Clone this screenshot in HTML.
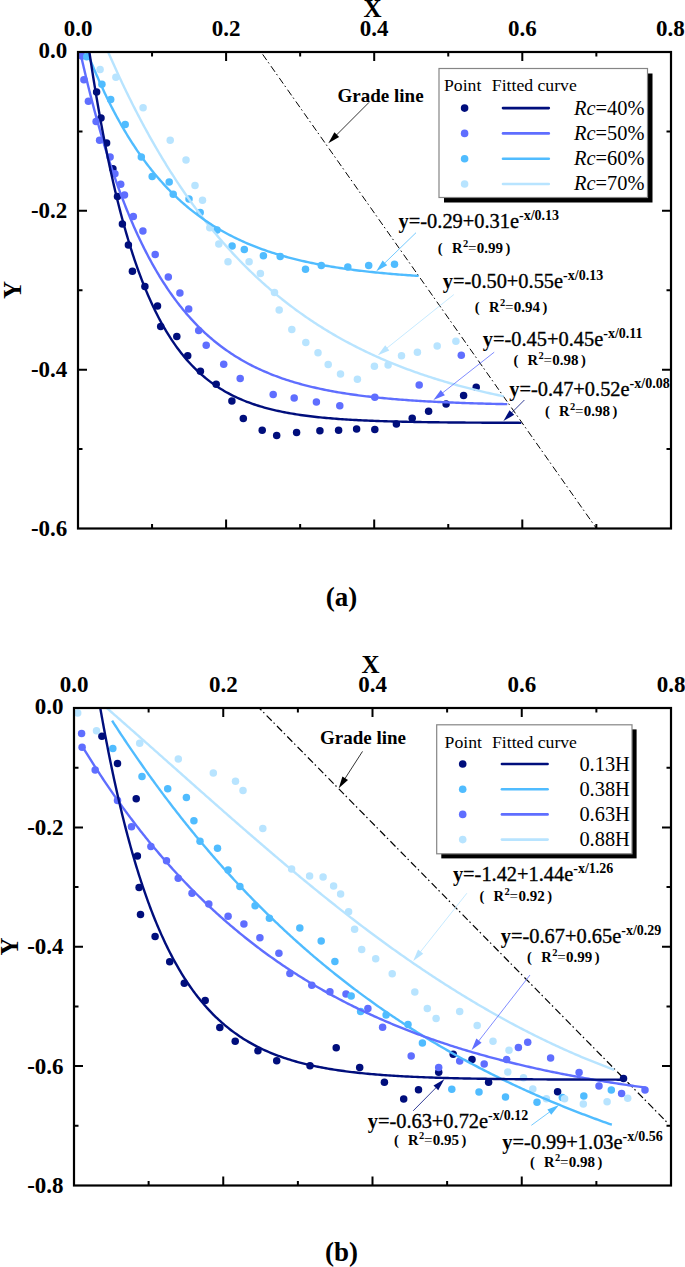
<!DOCTYPE html>
<html><head><meta charset="utf-8"><style>
html,body{margin:0;padding:0;background:#fff;}
body{width:685px;height:1267px;overflow:hidden;}
svg{display:block;}
text{font-family:"Liberation Serif",serif;fill:#000;}
.tick{font-size:23px;font-weight:bold;}
.title{font-size:25px;font-weight:bold;}
.cap{font-size:27px;font-weight:bold;}
.lh{font-size:17.7px;}
.le{font-size:20.4px;}
.gl{font-size:19px;font-weight:bold;}
.eq{font-size:20.4px;stroke:#000;stroke-width:0.35px;}
.eq .sup,.eq .b{stroke:none;}
.b{font-weight:bold;}
.sup{font-size:14px;font-weight:bold;}
.r2{font-size:14.5px;font-weight:bold;}
.r2eq{font-weight:normal;font-size:15px;}
.r2d{font-size:15px;}
.sup2{font-size:10.5px;}
</style></head><body>
<svg width="685" height="1267" viewBox="0 0 685 1267">
<g id="a">
<line x1="261" y1="52" x2="596.5" y2="528.5" stroke="#000" stroke-width="1.0" stroke-dasharray="7 2.6 1.5 3.3" stroke-dashoffset="-2.9"/>
<circle cx="96.6" cy="92" r="3.75" fill="#000e7c"/>
<circle cx="101" cy="118" r="3.75" fill="#000e7c"/>
<circle cx="106.6" cy="142.9" r="3.75" fill="#000e7c"/>
<circle cx="112.9" cy="168.8" r="3.75" fill="#000e7c"/>
<circle cx="117.5" cy="196.4" r="3.75" fill="#000e7c"/>
<circle cx="122.4" cy="223.9" r="3.75" fill="#000e7c"/>
<circle cx="128.4" cy="245" r="3.75" fill="#000e7c"/>
<circle cx="132.4" cy="271.2" r="3.75" fill="#000e7c"/>
<circle cx="144.9" cy="286.6" r="3.75" fill="#000e7c"/>
<circle cx="157.5" cy="305.9" r="3.75" fill="#000e7c"/>
<circle cx="160.7" cy="326.4" r="3.75" fill="#000e7c"/>
<circle cx="176.8" cy="336.6" r="3.75" fill="#000e7c"/>
<circle cx="187.7" cy="355.8" r="3.75" fill="#000e7c"/>
<circle cx="200.4" cy="371.3" r="3.75" fill="#000e7c"/>
<circle cx="216.2" cy="384.2" r="3.75" fill="#000e7c"/>
<circle cx="231.9" cy="401.1" r="3.75" fill="#000e7c"/>
<circle cx="243.3" cy="418.6" r="3.75" fill="#000e7c"/>
<circle cx="262.2" cy="430.3" r="3.75" fill="#000e7c"/>
<circle cx="276.7" cy="435.4" r="3.75" fill="#000e7c"/>
<circle cx="296.6" cy="432.6" r="3.75" fill="#000e7c"/>
<circle cx="319.9" cy="430.7" r="3.75" fill="#000e7c"/>
<circle cx="338.6" cy="430.3" r="3.75" fill="#000e7c"/>
<circle cx="356.6" cy="428.9" r="3.75" fill="#000e7c"/>
<circle cx="374.8" cy="429.6" r="3.75" fill="#000e7c"/>
<circle cx="396.4" cy="423.9" r="3.75" fill="#000e7c"/>
<circle cx="412.2" cy="418.3" r="3.75" fill="#000e7c"/>
<circle cx="428.6" cy="411.3" r="3.75" fill="#000e7c"/>
<circle cx="446.1" cy="404" r="3.75" fill="#000e7c"/>
<circle cx="463.6" cy="395.4" r="3.75" fill="#000e7c"/>
<circle cx="476.2" cy="387.2" r="3.75" fill="#000e7c"/>
<circle cx="81.8" cy="56.1" r="3.75" fill="#5f6eff"/>
<circle cx="83.9" cy="79.8" r="3.75" fill="#5f6eff"/>
<circle cx="88.4" cy="101.2" r="3.75" fill="#5f6eff"/>
<circle cx="96.1" cy="121.5" r="3.75" fill="#5f6eff"/>
<circle cx="99.6" cy="140.2" r="3.75" fill="#5f6eff"/>
<circle cx="110.1" cy="156.9" r="3.75" fill="#5f6eff"/>
<circle cx="114.9" cy="173.7" r="3.75" fill="#5f6eff"/>
<circle cx="120.7" cy="184.2" r="3.75" fill="#5f6eff"/>
<circle cx="124.5" cy="195" r="3.75" fill="#5f6eff"/>
<circle cx="133.3" cy="216.4" r="3.75" fill="#5f6eff"/>
<circle cx="142.9" cy="231" r="3.75" fill="#5f6eff"/>
<circle cx="155.2" cy="254.6" r="3.75" fill="#5f6eff"/>
<circle cx="168.3" cy="277" r="3.75" fill="#5f6eff"/>
<circle cx="179.9" cy="293.1" r="3.75" fill="#5f6eff"/>
<circle cx="188.7" cy="308.9" r="3.75" fill="#5f6eff"/>
<circle cx="198.7" cy="330.4" r="3.75" fill="#5f6eff"/>
<circle cx="206.2" cy="345.3" r="3.75" fill="#5f6eff"/>
<circle cx="223.7" cy="364.3" r="3.75" fill="#5f6eff"/>
<circle cx="240.2" cy="378.6" r="3.75" fill="#5f6eff"/>
<circle cx="273.2" cy="394.5" r="3.75" fill="#5f6eff"/>
<circle cx="294.2" cy="398" r="3.75" fill="#5f6eff"/>
<circle cx="316.4" cy="402" r="3.75" fill="#5f6eff"/>
<circle cx="339.8" cy="405.7" r="3.75" fill="#5f6eff"/>
<circle cx="374.8" cy="397.3" r="3.75" fill="#5f6eff"/>
<circle cx="419.2" cy="384.9" r="3.75" fill="#5f6eff"/>
<circle cx="461.3" cy="355.2" r="3.75" fill="#5f6eff"/>
<circle cx="86.7" cy="56.7" r="3.75" fill="#50bcff"/>
<circle cx="101.9" cy="84.2" r="3.75" fill="#50bcff"/>
<circle cx="110.7" cy="99.4" r="3.75" fill="#50bcff"/>
<circle cx="125.2" cy="124.5" r="3.75" fill="#50bcff"/>
<circle cx="141.3" cy="156.9" r="3.75" fill="#50bcff"/>
<circle cx="152.2" cy="176.6" r="3.75" fill="#50bcff"/>
<circle cx="169.2" cy="181.9" r="3.75" fill="#50bcff"/>
<circle cx="173.2" cy="194.2" r="3.75" fill="#50bcff"/>
<circle cx="189" cy="198.9" r="3.75" fill="#50bcff"/>
<circle cx="200.2" cy="212.6" r="3.75" fill="#50bcff"/>
<circle cx="217" cy="230.1" r="3.75" fill="#50bcff"/>
<circle cx="232.1" cy="246.1" r="3.75" fill="#50bcff"/>
<circle cx="244.3" cy="249.4" r="3.75" fill="#50bcff"/>
<circle cx="263.4" cy="255.7" r="3.75" fill="#50bcff"/>
<circle cx="280.2" cy="256.4" r="3.75" fill="#50bcff"/>
<circle cx="305.5" cy="269.2" r="3.75" fill="#50bcff"/>
<circle cx="321.3" cy="265.5" r="3.75" fill="#50bcff"/>
<circle cx="347.8" cy="267.1" r="3.75" fill="#50bcff"/>
<circle cx="368.7" cy="265.5" r="3.75" fill="#50bcff"/>
<circle cx="394.5" cy="264.2" r="3.75" fill="#50bcff"/>
<circle cx="100.1" cy="69.6" r="3.75" fill="#b8e4ff"/>
<circle cx="115.9" cy="77.2" r="3.75" fill="#b8e4ff"/>
<circle cx="143.1" cy="107.8" r="3.75" fill="#b8e4ff"/>
<circle cx="170.2" cy="140.2" r="3.75" fill="#b8e4ff"/>
<circle cx="186" cy="160" r="3.75" fill="#b8e4ff"/>
<circle cx="195" cy="185.4" r="3.75" fill="#b8e4ff"/>
<circle cx="202.5" cy="200.3" r="3.75" fill="#b8e4ff"/>
<circle cx="209.8" cy="227.8" r="3.75" fill="#b8e4ff"/>
<circle cx="218.8" cy="244.1" r="3.75" fill="#b8e4ff"/>
<circle cx="228" cy="261.7" r="3.75" fill="#b8e4ff"/>
<circle cx="249.1" cy="261.7" r="3.75" fill="#b8e4ff"/>
<circle cx="260.4" cy="273.6" r="3.75" fill="#b8e4ff"/>
<circle cx="274.5" cy="292.5" r="3.75" fill="#b8e4ff"/>
<circle cx="279.2" cy="310" r="3.75" fill="#b8e4ff"/>
<circle cx="291.8" cy="329.4" r="3.75" fill="#b8e4ff"/>
<circle cx="305.8" cy="342.6" r="3.75" fill="#b8e4ff"/>
<circle cx="318" cy="352.7" r="3.75" fill="#b8e4ff"/>
<circle cx="328.2" cy="364.5" r="3.75" fill="#b8e4ff"/>
<circle cx="340.5" cy="374.1" r="3.75" fill="#b8e4ff"/>
<circle cx="357.4" cy="379.3" r="3.75" fill="#b8e4ff"/>
<circle cx="374.4" cy="366.2" r="3.75" fill="#b8e4ff"/>
<circle cx="388.1" cy="365" r="3.75" fill="#b8e4ff"/>
<circle cx="401.5" cy="355.7" r="3.75" fill="#b8e4ff"/>
<circle cx="417.4" cy="352.2" r="3.75" fill="#b8e4ff"/>
<circle cx="437.2" cy="345.9" r="3.75" fill="#b8e4ff"/>
<circle cx="455.9" cy="341.2" r="3.75" fill="#b8e4ff"/>
<path d="M108.17,52 L108.2,52.08 L109,53.92 L109.9,55.97 L110.8,58.02 L111.7,60.06 L112.6,62.08 L113.5,64.1 L114.4,66.1 L115.3,68.09 L116.2,70.07 L117.1,72.04 L118,74 L118.9,75.95 L119.8,77.89 L120.7,79.82 L121.6,81.73 L122.5,83.64 L123.4,85.54 L124.3,87.42 L125.2,89.3 L126.1,91.16 L127,93.02 L127.9,94.86 L128.8,96.7 L129.7,98.52 L130.6,100.34 L131.5,102.14 L132.4,103.94 L133.4,105.92 L134.4,107.89 L135.4,109.85 L136.4,111.79 L137.4,113.73 L138.4,115.65 L139.4,117.56 L140.4,119.46 L141.4,121.35 L142.4,123.23 L143.4,125.1 L144.4,126.95 L145.4,128.79 L146.4,130.62 L147.4,132.44 L148.4,134.25 L149.4,136.05 L150.4,137.84 L151.4,139.62 L152.4,141.38 L153.4,143.14 L154.4,144.88 L155.4,146.62 L156.5,148.51 L157.6,150.39 L158.7,152.26 L159.8,154.12 L160.9,155.97 L162,157.8 L163.1,159.62 L164.2,161.43 L165.3,163.22 L166.4,165.01 L167.5,166.78 L168.6,168.54 L169.7,170.29 L170.8,172.03 L171.9,173.75 L173,175.47 L174.1,177.17 L175.2,178.86 L176.3,180.54 L177.5,182.36 L178.7,184.17 L179.9,185.96 L181.1,187.74 L182.3,189.51 L183.5,191.26 L184.7,193 L185.9,194.73 L187.1,196.45 L188.3,198.15 L189.5,199.84 L190.7,201.52 L191.9,203.19 L193.1,204.84 L194.3,206.49 L195.5,208.12 L196.7,209.73 L197.9,211.34 L199.2,213.07 L200.5,214.78 L201.8,216.48 L203.1,218.17 L204.4,219.84 L205.7,221.51 L207,223.15 L208.3,224.79 L209.6,226.41 L210.9,228.02 L212.2,229.61 L213.5,231.2 L214.8,232.77 L216.1,234.33 L217.4,235.87 L218.7,237.41 L220,238.93 L221.4,240.55 L222.8,242.17 L224.2,243.76 L225.6,245.35 L227,246.92 L228.4,248.48 L229.8,250.02 L231.2,251.55 L232.6,253.07 L234,254.58 L235.4,256.07 L236.8,257.55 L238.2,259.02 L239.6,260.47 L241,261.91 L242.4,263.34 L243.9,264.86 L245.4,266.37 L246.9,267.86 L248.4,269.34 L249.9,270.8 L251.4,272.25 L252.9,273.69 L254.4,275.12 L255.9,276.53 L257.4,277.93 L258.9,279.31 L260.4,280.69 L261.9,282.05 L263.4,283.4 L264.9,284.73 L266.4,286.06 L268,287.46 L269.6,288.84 L271.2,290.22 L272.8,291.58 L274.4,292.92 L276,294.25 L277.6,295.57 L279.2,296.88 L280.8,298.17 L282.4,299.46 L284,300.73 L285.6,301.98 L287.2,303.23 L288.8,304.46 L290.4,305.68 L292,306.89 L293.7,308.16 L295.4,309.42 L297.1,310.67 L298.8,311.9 L300.5,313.12 L302.2,314.33 L303.9,315.52 L305.6,316.7 L307.3,317.87 L309,319.03 L310.7,320.18 L312.4,321.31 L314.1,322.44 L315.8,323.55 L317.5,324.65 L319.2,325.74 L320.9,326.81 L322.6,327.88 L324.3,328.94 L326.1,330.04 L327.9,331.14 L329.7,332.22 L331.5,333.29 L333.3,334.34 L335.1,335.39 L336.9,336.43 L338.7,337.45 L340.5,338.46 L342.3,339.46 L344.1,340.46 L345.9,341.44 L347.7,342.4 L349.5,343.36 L351.3,344.31 L353.1,345.25 L354.9,346.18 L356.7,347.09 L358.5,348 L360.3,348.9 L362.1,349.79 L363.9,350.66 L365.8,351.58 L367.7,352.49 L369.6,353.38 L371.5,354.27 L373.4,355.14 L375.3,356.01 L377.2,356.86 L379.1,357.71 L381,358.54 L382.9,359.37 L384.8,360.19 L386.7,360.99 L388.6,361.79 L390.5,362.58 L392.4,363.36 L394.3,364.13 L396.2,364.89 L398.1,365.64 L400,366.39 L401.9,367.12 L403.8,367.85 L405.7,368.57 L407.6,369.28 L409.5,369.98 L411.4,370.67 L413.3,371.36 L415.2,372.04 L417.1,372.71 L419,373.37 L420.9,374.03 L422.8,374.67 L424.7,375.31 L426.6,375.95 L428.5,376.57 L430.5,377.22 L432.5,377.86 L434.5,378.5 L436.5,379.13 L438.5,379.75 L440.5,380.36 L442.5,380.96 L444.5,381.56 L446.5,382.15 L448.5,382.73 L450.5,383.31 L452.5,383.88 L454.5,384.44 L456.5,385 L458.5,385.54 L460.5,386.09 L462.5,386.62 L464.5,387.15 L466.5,387.67 L468.5,388.19 L470.5,388.7 L472.5,389.2 L474.5,389.7 L476.5,390.19 L478.5,390.68 L480.5,391.16 L482.5,391.63 L484.5,392.1 L486.5,392.56 L488.5,393.02 L490.5,393.47 L492.5,393.91 L494.5,394.36 L496.5,394.79 L498.5,395.22 L500.5,395.64 L502.5,396.06 L503.8,396.33" fill="none" stroke="#b8e4ff" stroke-width="2.4" stroke-linejoin="round" stroke-linecap="butt"/>
<path d="M87.18,52 L87.2,52.05 L88,54.1 L88.8,56.13 L89.6,58.15 L90.4,60.14 L91.2,62.12 L92,64.08 L92.8,66.02 L93.6,67.95 L94.4,69.85 L95.2,71.74 L96,73.62 L96.8,75.47 L97.6,77.31 L98.5,79.36 L99.4,81.39 L100.3,83.4 L101.2,85.39 L102.1,87.36 L103,89.31 L103.9,91.24 L104.8,93.15 L105.7,95.04 L106.6,96.92 L107.5,98.77 L108.4,100.61 L109.3,102.42 L110.2,104.22 L111.2,106.2 L112.2,108.15 L113.2,110.09 L114.2,112 L115.2,113.89 L116.2,115.76 L117.2,117.6 L118.2,119.43 L119.2,121.24 L120.2,123.03 L121.2,124.79 L122.2,126.54 L123.3,128.44 L124.4,130.32 L125.5,132.17 L126.6,134 L127.7,135.81 L128.8,137.6 L129.9,139.36 L131,141.1 L132.1,142.82 L133.2,144.52 L134.3,146.2 L135.5,148.01 L136.7,149.8 L137.9,151.56 L139.1,153.29 L140.3,155.01 L141.5,156.7 L142.7,158.37 L143.9,160.01 L145.1,161.64 L146.3,163.24 L147.6,164.95 L148.9,166.64 L150.2,168.3 L151.5,169.94 L152.8,171.55 L154.1,173.14 L155.4,174.71 L156.7,176.26 L158,177.78 L159.4,179.39 L160.8,180.98 L162.2,182.55 L163.6,184.09 L165,185.61 L166.4,187.1 L167.8,188.57 L169.2,190.02 L170.7,191.54 L172.2,193.05 L173.7,194.52 L175.2,195.97 L176.7,197.4 L178.2,198.8 L179.7,200.18 L181.2,201.54 L182.7,202.87 L184.3,204.27 L185.9,205.64 L187.5,206.99 L189.1,208.31 L190.7,209.61 L192.3,210.89 L193.9,212.15 L195.5,213.38 L197.1,214.59 L198.8,215.85 L200.5,217.09 L202.2,218.31 L203.9,219.5 L205.6,220.67 L207.3,221.82 L209,222.95 L210.7,224.05 L212.4,225.14 L214.1,226.2 L215.9,227.31 L217.7,228.39 L219.5,229.45 L221.3,230.49 L223.1,231.51 L224.9,232.51 L226.7,233.49 L228.5,234.44 L230.3,235.38 L232.1,236.3 L233.9,237.21 L235.7,238.09 L237.6,239.01 L239.5,239.9 L241.4,240.78 L243.3,241.64 L245.2,242.48 L247.1,243.3 L249,244.1 L250.9,244.89 L252.8,245.66 L254.7,246.42 L256.6,247.16 L258.5,247.88 L260.4,248.59 L262.3,249.28 L264.2,249.96 L266.1,250.62 L268,251.27 L269.9,251.91 L271.9,252.57 L273.9,253.21 L275.9,253.83 L277.9,254.45 L279.9,255.05 L281.9,255.63 L283.9,256.21 L285.9,256.77 L287.9,257.31 L289.9,257.85 L291.9,258.37 L293.9,258.89 L295.9,259.39 L297.9,259.88 L299.9,260.36 L301.9,260.82 L303.9,261.28 L305.9,261.73 L307.9,262.17 L309.9,262.6 L311.9,263.01 L313.9,263.42 L315.9,263.82 L317.9,264.22 L319.9,264.6 L321.9,264.97 L323.9,265.34 L325.9,265.7 L327.9,266.05 L329.9,266.39 L331.9,266.72 L333.9,267.05 L335.9,267.37 L337.9,267.68 L339.9,267.99 L341.9,268.29 L343.9,268.58 L345.9,268.86 L347.9,269.14 L349.9,269.42 L351.9,269.68 L353.9,269.95 L355.9,270.2 L357.9,270.45 L359.9,270.7 L361.9,270.93 L363.9,271.17 L365.9,271.4 L367.9,271.62 L369.9,271.84 L371.9,272.05 L373.9,272.26 L375.9,272.47 L377.9,272.66 L379.9,272.86 L381.9,273.05 L383.9,273.24 L385.9,273.42 L387.9,273.6 L389.9,273.77 L391.9,273.94 L393.9,274.11 L395.9,274.27 L397.9,274.43 L399.9,274.59 L401.9,274.74 L403.9,274.89 L405.9,275.04 L407.9,275.18 L409.9,275.32 L411.9,275.46 L413.9,275.59 L415.9,275.72 L417.9,275.85 L418.6,275.89" fill="none" stroke="#50bcff" stroke-width="2.4" stroke-linejoin="round" stroke-linecap="butt"/>
<path d="M80.21,52 L80.3,52.39 L80.8,54.62 L81.3,56.84 L81.8,59.04 L82.3,61.23 L82.8,63.4 L83.3,65.57 L83.8,67.71 L84.3,69.85 L84.8,71.97 L85.3,74.08 L85.8,76.17 L86.3,78.25 L86.8,80.32 L87.3,82.38 L87.8,84.42 L88.3,86.45 L88.8,88.46 L89.3,90.47 L89.8,92.46 L90.3,94.44 L90.8,96.4 L91.3,98.35 L91.8,100.3 L92.4,102.61 L93,104.9 L93.6,107.18 L94.2,109.44 L94.8,111.69 L95.4,113.91 L96,116.12 L96.6,118.32 L97.2,120.49 L97.8,122.65 L98.4,124.8 L99,126.92 L99.6,129.04 L100.2,131.13 L100.8,133.21 L101.4,135.27 L102,137.32 L102.6,139.36 L103.2,141.37 L103.8,143.37 L104.4,145.36 L105,147.33 L105.6,149.29 L106.2,151.23 L106.8,153.16 L107.4,155.07 L108.1,157.29 L108.8,159.48 L109.5,161.65 L110.2,163.81 L110.9,165.94 L111.6,168.06 L112.3,170.16 L113,172.24 L113.7,174.3 L114.4,176.35 L115.1,178.37 L115.8,180.38 L116.5,182.37 L117.2,184.34 L117.9,186.29 L118.6,188.23 L119.3,190.15 L120,192.06 L120.7,193.94 L121.5,196.08 L122.3,198.19 L123.1,200.29 L123.9,202.36 L124.7,204.41 L125.5,206.44 L126.3,208.45 L127.1,210.44 L127.9,212.41 L128.7,214.36 L129.5,216.29 L130.3,218.2 L131.1,220.09 L131.9,221.96 L132.7,223.81 L133.5,225.65 L134.4,227.69 L135.3,229.71 L136.2,231.7 L137.1,233.68 L138,235.63 L138.9,237.56 L139.8,239.46 L140.7,241.35 L141.6,243.21 L142.5,245.06 L143.4,246.88 L144.3,248.68 L145.3,250.66 L146.3,252.61 L147.3,254.54 L148.3,256.44 L149.3,258.32 L150.3,260.18 L151.3,262.01 L152.3,263.82 L153.3,265.6 L154.3,267.37 L155.3,269.11 L156.4,271 L157.5,272.87 L158.6,274.7 L159.7,276.52 L160.8,278.31 L161.9,280.07 L163,281.81 L164.1,283.52 L165.2,285.22 L166.4,287.03 L167.6,288.83 L168.8,290.59 L170,292.33 L171.2,294.04 L172.4,295.72 L173.6,297.38 L174.8,299.02 L176,300.63 L177.3,302.35 L178.6,304.03 L179.9,305.7 L181.2,307.33 L182.5,308.94 L183.8,310.52 L185.1,312.07 L186.4,313.6 L187.8,315.22 L189.2,316.82 L190.6,318.38 L192,319.91 L193.4,321.42 L194.8,322.91 L196.2,324.36 L197.6,325.79 L199.1,327.3 L200.6,328.77 L202.1,330.22 L203.6,331.64 L205.1,333.04 L206.6,334.41 L208.1,335.75 L209.7,337.15 L211.3,338.53 L212.9,339.88 L214.5,341.2 L216.1,342.5 L217.7,343.77 L219.3,345.01 L220.9,346.23 L222.6,347.5 L224.3,348.74 L226,349.95 L227.7,351.14 L229.4,352.3 L231.1,353.44 L232.8,354.56 L234.5,355.65 L236.2,356.71 L238,357.82 L239.8,358.9 L241.6,359.96 L243.4,360.99 L245.2,362 L247,362.98 L248.8,363.95 L250.6,364.89 L252.4,365.81 L254.2,366.71 L256,367.59 L257.9,368.5 L259.8,369.38 L261.7,370.25 L263.6,371.09 L265.5,371.92 L267.4,372.72 L269.3,373.51 L271.2,374.27 L273.1,375.02 L275,375.75 L276.9,376.47 L278.8,377.16 L280.7,377.84 L282.6,378.51 L284.5,379.15 L286.4,379.79 L288.4,380.43 L290.4,381.07 L292.4,381.68 L294.4,382.29 L296.4,382.87 L298.4,383.45 L300.4,384 L302.4,384.55 L304.4,385.08 L306.4,385.59 L308.4,386.1 L310.4,386.59 L312.4,387.07 L314.4,387.54 L316.4,387.99 L318.4,388.44 L320.4,388.87 L322.4,389.29 L324.4,389.7 L326.4,390.1 L328.4,390.49 L330.4,390.88 L332.4,391.25 L334.4,391.61 L336.4,391.96 L338.4,392.31 L340.4,392.64 L342.4,392.97 L344.4,393.29 L346.4,393.6 L348.4,393.91 L350.4,394.2 L352.4,394.49 L354.4,394.77 L356.4,395.05 L358.4,395.32 L360.4,395.58 L362.4,395.83 L364.4,396.08 L366.4,396.32 L368.4,396.56 L370.4,396.79 L372.4,397.01 L374.4,397.23 L376.4,397.44 L378.4,397.65 L380.4,397.85 L382.4,398.05 L384.4,398.24 L386.4,398.43 L388.4,398.61 L390.4,398.79 L392.4,398.96 L394.4,399.13 L396.4,399.3 L398.4,399.46 L400.4,399.62 L402.4,399.77 L404.4,399.92 L406.4,400.06 L408.4,400.21 L410.4,400.35 L412.4,400.48 L414.4,400.61 L416.4,400.74 L418.4,400.87 L420.4,400.99 L422.4,401.11 L424.4,401.22 L426.4,401.33 L428.4,401.45 L430.4,401.55 L432.4,401.66 L434.4,401.76 L436.4,401.86 L438.4,401.96 L440.4,402.05 L442.4,402.14 L444.4,402.23 L446.4,402.32 L448.4,402.41 L450.4,402.49 L452.4,402.57 L454.4,402.65 L456.4,402.73 L458.4,402.8 L460.4,402.88 L462.4,402.95 L464.4,403.02 L466.4,403.09 L468.4,403.15 L470.4,403.22 L472.4,403.28 L474.4,403.34 L476.4,403.4 L478.4,403.46 L480.4,403.52 L482.4,403.57 L484.4,403.63 L486.4,403.68 L488.4,403.73 L490.4,403.78 L492.4,403.83 L494.4,403.88 L496.4,403.93 L498.4,403.97 L500.4,404.01 L502.4,404.06 L504.4,404.1 L506.4,404.14 L507.3,404.16" fill="none" stroke="#5f6eff" stroke-width="2.4" stroke-linejoin="round" stroke-linecap="butt"/>
<path d="M89.37,52 L89.4,52.2 L89.7,54.22 L90,56.22 L90.3,58.22 L90.6,60.2 L91,62.83 L91.4,65.44 L91.8,68.03 L92.2,70.6 L92.6,73.15 L93,75.69 L93.4,78.2 L93.8,80.7 L94.2,83.18 L94.6,85.64 L95,88.08 L95.4,90.51 L95.8,92.92 L96.2,95.31 L96.6,97.68 L97,100.04 L97.4,102.38 L97.8,104.7 L98.2,107.01 L98.6,109.29 L99,111.57 L99.4,113.82 L99.8,116.06 L100.21,118.29 L100.61,120.49 L101.01,122.68 L101.41,124.86 L101.81,127.02 L102.21,129.16 L102.61,131.29 L103.01,133.4 L103.41,135.5 L103.81,137.58 L104.21,139.65 L104.61,141.7 L105.01,143.74 L105.41,145.76 L105.81,147.77 L106.21,149.77 L106.61,151.75 L107.01,153.71 L107.51,156.15 L108.01,158.56 L108.51,160.95 L109.01,163.32 L109.51,165.67 L110.01,168 L110.51,170.31 L111.01,172.59 L111.51,174.86 L112.01,177.1 L112.51,179.33 L113.01,181.53 L113.51,183.71 L114.01,185.88 L114.51,188.02 L115.01,190.15 L115.51,192.26 L116.01,194.34 L116.51,196.41 L117.01,198.46 L117.51,200.49 L118.01,202.51 L118.51,204.5 L119.01,206.48 L119.51,208.44 L120.01,210.38 L120.61,212.68 L121.21,214.96 L121.81,217.22 L122.41,219.45 L123.01,221.66 L123.61,223.84 L124.21,226 L124.81,228.14 L125.41,230.25 L126.01,232.34 L126.61,234.41 L127.21,236.45 L127.81,238.48 L128.41,240.48 L129.01,242.46 L129.61,244.42 L130.21,246.35 L130.81,248.27 L131.51,250.48 L132.21,252.66 L132.91,254.81 L133.61,256.94 L134.31,259.04 L135.01,261.11 L135.71,263.16 L136.41,265.18 L137.11,267.17 L137.81,269.14 L138.51,271.09 L139.21,273.01 L139.91,274.9 L140.71,277.04 L141.51,279.15 L142.31,281.22 L143.11,283.27 L143.91,285.29 L144.72,287.27 L145.52,289.23 L146.32,291.16 L147.12,293.07 L147.92,294.94 L148.72,296.79 L149.62,298.84 L150.52,300.85 L151.42,302.83 L152.32,304.78 L153.22,306.7 L154.12,308.59 L155.02,310.44 L155.92,312.27 L156.82,314.06 L157.82,316.03 L158.82,317.95 L159.82,319.84 L160.82,321.7 L161.82,323.52 L162.82,325.32 L163.82,327.07 L164.92,328.97 L166.02,330.83 L167.12,332.66 L168.22,334.45 L169.32,336.2 L170.42,337.92 L171.52,339.6 L172.72,341.4 L173.92,343.16 L175.12,344.88 L176.32,346.57 L177.52,348.21 L178.72,349.83 L180.02,351.53 L181.32,353.2 L182.62,354.83 L183.92,356.42 L185.22,357.98 L186.62,359.61 L188.02,361.2 L189.43,362.75 L190.83,364.27 L192.23,365.74 L193.63,367.18 L195.13,368.68 L196.63,370.14 L198.13,371.56 L199.63,372.94 L201.13,374.29 L202.73,375.69 L204.33,377.04 L205.93,378.36 L207.53,379.64 L209.13,380.88 L210.73,382.09 L212.43,383.33 L214.13,384.54 L215.83,385.7 L217.53,386.84 L219.23,387.94 L220.93,389 L222.73,390.1 L224.53,391.16 L226.33,392.18 L228.13,393.17 L229.93,394.13 L231.73,395.06 L233.54,395.96 L235.44,396.87 L237.34,397.76 L239.24,398.62 L241.14,399.44 L243.04,400.24 L244.94,401.01 L246.84,401.76 L248.74,402.48 L250.64,403.17 L252.54,403.85 L254.44,404.5 L256.34,405.12 L258.34,405.76 L260.34,406.37 L262.34,406.97 L264.34,407.54 L266.34,408.09 L268.34,408.62 L270.34,409.13 L272.34,409.63 L274.34,410.1 L276.34,410.56 L278.35,411.01 L280.35,411.43 L282.35,411.85 L284.35,412.24 L286.35,412.63 L288.35,412.99 L290.35,413.35 L292.35,413.69 L294.35,414.03 L296.35,414.35 L298.35,414.65 L300.35,414.95 L302.35,415.24 L304.35,415.51 L306.35,415.78 L308.35,416.04 L310.35,416.28 L312.35,416.52 L314.35,416.75 L316.35,416.97 L318.35,417.19 L320.35,417.4 L322.36,417.59 L324.36,417.79 L326.36,417.97 L328.36,418.15 L330.36,418.32 L332.36,418.49 L334.36,418.65 L336.36,418.8 L338.36,418.95 L340.36,419.09 L342.36,419.23 L344.36,419.37 L346.36,419.5 L348.36,419.62 L350.36,419.74 L352.36,419.85 L354.36,419.97 L356.36,420.07 L358.36,420.18 L360.36,420.28 L362.36,420.37 L364.36,420.47 L366.37,420.56 L368.37,420.64 L370.37,420.72 L372.37,420.8 L374.37,420.88 L376.37,420.96 L378.37,421.03 L380.37,421.1 L382.37,421.17 L384.37,421.23 L386.37,421.29 L388.37,421.35 L390.37,421.41 L392.37,421.47 L394.37,421.52 L396.37,421.57 L398.37,421.62 L400.37,421.67 L402.37,421.72 L404.37,421.76 L406.37,421.8 L408.37,421.85 L410.37,421.89 L412.38,421.92 L414.38,421.96 L416.38,422 L418.38,422.03 L420.38,422.07 L422.38,422.1 L424.38,422.13 L426.38,422.16 L428.38,422.19 L430.38,422.22 L432.38,422.24 L434.38,422.27 L436.38,422.3 L438.38,422.32 L440.38,422.34 L442.38,422.37 L444.38,422.39 L446.38,422.41 L448.38,422.43 L450.38,422.45 L452.38,422.47 L454.38,422.48 L456.39,422.5 L458.39,422.52 L460.39,422.53 L462.39,422.55 L464.39,422.57 L466.39,422.58 L468.39,422.59 L470.39,422.61 L472.39,422.62 L474.39,422.63 L476.39,422.65 L478.39,422.66 L480.39,422.67 L482.39,422.68 L484.39,422.69 L486.39,422.7 L488.39,422.71 L490.39,422.72 L492.39,422.73 L494.39,422.74 L496.39,422.74 L498.39,422.75 L500.4,422.76 L502.4,422.77 L504.4,422.78 L506.4,422.78 L508.4,422.79 L510.4,422.8 L512.4,422.8 L514.4,422.81 L516.4,422.81 L518.4,422.82 L520.4,422.83 L521.3,422.83" fill="none" stroke="#000e7c" stroke-width="2.4" stroke-linejoin="round" stroke-linecap="butt"/>
<rect x="78" y="52" width="593" height="476.5" fill="none" stroke="#000" stroke-width="2.2"/>
<path d="M226.1,52 v9 M226.1,528.5 v-9 M374.2,52 v9 M374.2,528.5 v-9 M522.3,52 v9 M522.3,528.5 v-9 M152.05,52 v4.5 M152.05,528.5 v-4.5 M300.15,52 v4.5 M300.15,528.5 v-4.5 M448.25,52 v4.5 M448.25,528.5 v-4.5 M596.35,52 v4.5 M596.35,528.5 v-4.5 M78,210.83 h9 M671,210.83 h-9 M78,369.67 h9 M671,369.67 h-9 M78,131.42 h4.5 M671,131.42 h-4.5 M78,290.25 h4.5 M671,290.25 h-4.5 M78,449.08 h4.5 M671,449.08 h-4.5 " stroke="#000" stroke-width="2" fill="none"/>
<text x="78" y="36" class="tick" text-anchor="middle">0.0</text>
<text x="226.1" y="36" class="tick" text-anchor="middle">0.2</text>
<text x="374.2" y="36" class="tick" text-anchor="middle">0.4</text>
<text x="522.3" y="36" class="tick" text-anchor="middle">0.6</text>
<text x="670.4" y="36" class="tick" text-anchor="middle">0.8</text>
<text x="67.3" y="57.5" class="tick" text-anchor="end">0.0</text>
<text x="67.3" y="218.33" class="tick" text-anchor="end">-0.2</text>
<text x="67.3" y="377.17" class="tick" text-anchor="end">-0.4</text>
<text x="67.3" y="536" class="tick" text-anchor="end">-0.6</text>
<text x="372.5" y="16.6" class="title" text-anchor="middle">X</text>
<text transform="translate(20.7,290) rotate(-90)" class="title" text-anchor="middle">Y</text>
<rect x="444" y="73.5" width="208.5" height="129" fill="#000"/>
<rect x="439" y="68.5" width="208.5" height="129" fill="#fff" stroke="#858585" stroke-width="1.2"/>
<text x="444" y="91.2" class="lh">Point</text><text x="491.8" y="91.2" class="lh">Fitted curve</text>
<circle cx="464.6" cy="108.1" r="3.8" fill="#000e7c"/>
<line x1="503" y1="108.1" x2="548.8" y2="108.1" stroke="#000e7c" stroke-width="2.6" stroke-linecap="round"/>
<text x="574" y="114.6" class="le"><tspan font-style="italic">Rc</tspan>=40%</text>
<circle cx="464.6" cy="133.4" r="3.8" fill="#5f6eff"/>
<line x1="503" y1="133.4" x2="548.8" y2="133.4" stroke="#5f6eff" stroke-width="2.6" stroke-linecap="round"/>
<text x="574" y="139.6" class="le"><tspan font-style="italic">Rc</tspan>=50%</text>
<circle cx="464.6" cy="158.7" r="3.8" fill="#50bcff"/>
<line x1="503" y1="158.7" x2="548.8" y2="158.7" stroke="#50bcff" stroke-width="2.6" stroke-linecap="round"/>
<text x="574" y="164.6" class="le"><tspan font-style="italic">Rc</tspan>=60%</text>
<circle cx="464.6" cy="184" r="3.8" fill="#b8e4ff"/>
<line x1="503" y1="184" x2="548.8" y2="184" stroke="#b8e4ff" stroke-width="2.6" stroke-linecap="round"/>
<text x="574" y="189.6" class="le"><tspan font-style="italic">Rc</tspan>=70%</text>
<text x="337.6" y="101.7" class="gl">Grade line</text>
<line x1="369" y1="102.4" x2="335.36" y2="136.12" stroke="#000" stroke-width="0.8"/>
<path d="M328.3,143.2 L334.44,132.37 L339.11,137.03 Z" fill="#000"/>
<text x="398.6" y="228.3" class="eq"><tspan class="b">y</tspan>=-0.29+0.31e<tspan class="sup" dy="-8">-x/0.13</tspan></text>
<text y="252.5" class="r2"><tspan x="437.8">(</tspan><tspan x="451.9">R</tspan><tspan x="462.9" dy="-6" class="sup2">2</tspan><tspan x="467.9" dy="6" class="r2eq">=</tspan><tspan x="476.7" class="r2d">0.99</tspan><tspan x="505.5">)</tspan></text>
<line x1="416" y1="232.7" x2="383.48" y2="264.24" stroke="#50bcff" stroke-width="0.8"/>
<path d="M376.3,271.2 L382.62,260.48 L387.21,265.21 Z" fill="#50bcff"/>
<text x="442.7" y="288" class="eq"><tspan class="b">y</tspan>=-0.50+0.55e<tspan class="sup" dy="-8">-x/0.13</tspan></text>
<text y="311.9" class="r2"><tspan x="474.8">(</tspan><tspan x="488.9">R</tspan><tspan x="499.9" dy="-6" class="sup2">2</tspan><tspan x="504.9" dy="6" class="r2eq">=</tspan><tspan x="513.7" class="r2d">0.94</tspan><tspan x="542.5">)</tspan></text>
<line x1="453.8" y1="294.6" x2="385.71" y2="349.05" stroke="#b8e4ff" stroke-width="0.8"/>
<path d="M377.9,355.3 L385.21,345.23 L389.33,350.38 Z" fill="#b8e4ff"/>
<text x="482.8" y="345.5" class="eq"><tspan class="b">y</tspan>=-0.45+0.45e<tspan class="sup" dy="-8">-x/0.11</tspan></text>
<text y="365" class="r2"><tspan x="513.4">(</tspan><tspan x="527.5">R</tspan><tspan x="538.5" dy="-6" class="sup2">2</tspan><tspan x="543.5" dy="6" class="r2eq">=</tspan><tspan x="552.3" class="r2d">0.98</tspan><tspan x="581.1">)</tspan></text>
<line x1="494.2" y1="352.2" x2="441.26" y2="393.91" stroke="#5f6eff" stroke-width="0.8"/>
<path d="M433.4,400.1 L440.78,390.08 L444.87,395.27 Z" fill="#5f6eff"/>
<text x="509.2" y="395.8" class="eq"><tspan class="b">y</tspan>=-0.47+0.52e<tspan class="sup" dy="-8">-x/0.08</tspan></text>
<text y="416.3" class="r2"><tspan x="544.9">(</tspan><tspan x="559">R</tspan><tspan x="570" dy="-6" class="sup2">2</tspan><tspan x="575" dy="6" class="r2eq">=</tspan><tspan x="583.8" class="r2d">0.98</tspan><tspan x="612.6">)</tspan></text>
<line x1="524.4" y1="400" x2="510.47" y2="413.93" stroke="#000e7c" stroke-width="0.8"/>
<path d="M503.4,421 L509.55,410.18 L514.22,414.85 Z" fill="#000e7c"/>
<text x="341.5" y="605.5" class="cap" text-anchor="middle">(a)</text>
</g>
<g id="b">
<line x1="259.2" y1="708" x2="666.5" y2="1121.8" stroke="#000" stroke-width="1.2" stroke-dasharray="7.3 2.6 1.5 3.3" stroke-dashoffset="4.1"/>
<circle cx="101.9" cy="736.2" r="3.75" fill="#000e7c"/>
<circle cx="117.5" cy="763.5" r="3.75" fill="#000e7c"/>
<circle cx="136.2" cy="798.8" r="3.75" fill="#000e7c"/>
<circle cx="137.4" cy="856" r="3.75" fill="#000e7c"/>
<circle cx="139.1" cy="887.4" r="3.75" fill="#000e7c"/>
<circle cx="140.5" cy="914.5" r="3.75" fill="#000e7c"/>
<circle cx="155.1" cy="936.6" r="3.75" fill="#000e7c"/>
<circle cx="169.7" cy="961.8" r="3.75" fill="#000e7c"/>
<circle cx="184.3" cy="983.3" r="3.75" fill="#000e7c"/>
<circle cx="205.2" cy="1000.4" r="3.75" fill="#000e7c"/>
<circle cx="219.8" cy="1027.5" r="3.75" fill="#000e7c"/>
<circle cx="235.2" cy="1041.2" r="3.75" fill="#000e7c"/>
<circle cx="257.9" cy="1050.8" r="3.75" fill="#000e7c"/>
<circle cx="276.7" cy="1060.8" r="3.75" fill="#000e7c"/>
<circle cx="310" cy="1065.7" r="3.75" fill="#000e7c"/>
<circle cx="336.2" cy="1047.7" r="3.75" fill="#000e7c"/>
<circle cx="359.7" cy="1067.6" r="3.75" fill="#000e7c"/>
<circle cx="384.4" cy="1082.3" r="3.75" fill="#000e7c"/>
<circle cx="403.7" cy="1099" r="3.75" fill="#000e7c"/>
<circle cx="418.5" cy="1089.7" r="3.75" fill="#000e7c"/>
<circle cx="438.7" cy="1072.2" r="3.75" fill="#000e7c"/>
<circle cx="453.2" cy="1054.3" r="3.75" fill="#000e7c"/>
<circle cx="472" cy="1059.6" r="3.75" fill="#000e7c"/>
<circle cx="488.6" cy="1082.3" r="3.75" fill="#000e7c"/>
<circle cx="557.6" cy="1091.8" r="3.75" fill="#000e7c"/>
<circle cx="623.5" cy="1078.4" r="3.75" fill="#000e7c"/>
<circle cx="81.6" cy="733.5" r="3.75" fill="#5f6eff"/>
<circle cx="82.1" cy="747.2" r="3.75" fill="#5f6eff"/>
<circle cx="95.2" cy="770.1" r="3.75" fill="#5f6eff"/>
<circle cx="117.5" cy="800.4" r="3.75" fill="#5f6eff"/>
<circle cx="131.5" cy="826.8" r="3.75" fill="#5f6eff"/>
<circle cx="150.9" cy="846.6" r="3.75" fill="#5f6eff"/>
<circle cx="166.5" cy="860.7" r="3.75" fill="#5f6eff"/>
<circle cx="178.2" cy="878.2" r="3.75" fill="#5f6eff"/>
<circle cx="192" cy="893.3" r="3.75" fill="#5f6eff"/>
<circle cx="208.8" cy="903.9" r="3.75" fill="#5f6eff"/>
<circle cx="228.1" cy="916.2" r="3.75" fill="#5f6eff"/>
<circle cx="243.9" cy="924.1" r="3.75" fill="#5f6eff"/>
<circle cx="259.9" cy="937.7" r="3.75" fill="#5f6eff"/>
<circle cx="278.9" cy="953.3" r="3.75" fill="#5f6eff"/>
<circle cx="289.9" cy="973.4" r="3.75" fill="#5f6eff"/>
<circle cx="311.8" cy="985.3" r="3.75" fill="#5f6eff"/>
<circle cx="329.9" cy="991.7" r="3.75" fill="#5f6eff"/>
<circle cx="346" cy="994" r="3.75" fill="#5f6eff"/>
<circle cx="367.9" cy="1008.6" r="3.75" fill="#5f6eff"/>
<circle cx="382.6" cy="1027.2" r="3.75" fill="#5f6eff"/>
<circle cx="411.2" cy="1056.1" r="3.75" fill="#5f6eff"/>
<circle cx="438.7" cy="1067.4" r="3.75" fill="#5f6eff"/>
<circle cx="459.7" cy="1061" r="3.75" fill="#5f6eff"/>
<circle cx="484.2" cy="1063.9" r="3.75" fill="#5f6eff"/>
<circle cx="506.7" cy="1059.5" r="3.75" fill="#5f6eff"/>
<circle cx="518.4" cy="1047.4" r="3.75" fill="#5f6eff"/>
<circle cx="527.7" cy="1042.2" r="3.75" fill="#5f6eff"/>
<circle cx="550.6" cy="1057.9" r="3.75" fill="#5f6eff"/>
<circle cx="579.1" cy="1072.6" r="3.75" fill="#5f6eff"/>
<circle cx="599" cy="1085.9" r="3.75" fill="#5f6eff"/>
<circle cx="621.6" cy="1093.6" r="3.75" fill="#5f6eff"/>
<circle cx="645" cy="1089.9" r="3.75" fill="#5f6eff"/>
<circle cx="112.8" cy="748.6" r="3.75" fill="#50bcff"/>
<circle cx="142" cy="776.6" r="3.75" fill="#50bcff"/>
<circle cx="167.7" cy="788.8" r="3.75" fill="#50bcff"/>
<circle cx="186.4" cy="797.4" r="3.75" fill="#50bcff"/>
<circle cx="193.9" cy="820.8" r="3.75" fill="#50bcff"/>
<circle cx="200" cy="841.3" r="3.75" fill="#50bcff"/>
<circle cx="217.5" cy="848.3" r="3.75" fill="#50bcff"/>
<circle cx="228.1" cy="869.9" r="3.75" fill="#50bcff"/>
<circle cx="239.9" cy="886.6" r="3.75" fill="#50bcff"/>
<circle cx="255.1" cy="905.8" r="3.75" fill="#50bcff"/>
<circle cx="269.4" cy="918.2" r="3.75" fill="#50bcff"/>
<circle cx="299.8" cy="927.9" r="3.75" fill="#50bcff"/>
<circle cx="321.2" cy="941" r="3.75" fill="#50bcff"/>
<circle cx="334.9" cy="961.4" r="3.75" fill="#50bcff"/>
<circle cx="351.2" cy="996.1" r="3.75" fill="#50bcff"/>
<circle cx="360.6" cy="1011.5" r="3.75" fill="#50bcff"/>
<circle cx="386.1" cy="1014.9" r="3.75" fill="#50bcff"/>
<circle cx="408" cy="1024.5" r="3.75" fill="#50bcff"/>
<circle cx="422.4" cy="1042.9" r="3.75" fill="#50bcff"/>
<circle cx="451.8" cy="1089.3" r="3.75" fill="#50bcff"/>
<circle cx="479" cy="1092" r="3.75" fill="#50bcff"/>
<circle cx="505.5" cy="1096.9" r="3.75" fill="#50bcff"/>
<circle cx="537" cy="1102.3" r="3.75" fill="#50bcff"/>
<circle cx="562.3" cy="1097.6" r="3.75" fill="#50bcff"/>
<circle cx="583.8" cy="1096" r="3.75" fill="#50bcff"/>
<circle cx="611.3" cy="1089.9" r="3.75" fill="#50bcff"/>
<circle cx="77.7" cy="713.1" r="3.75" fill="#b8e4ff"/>
<circle cx="96.5" cy="730.8" r="3.75" fill="#b8e4ff"/>
<circle cx="139.7" cy="743.2" r="3.75" fill="#b8e4ff"/>
<circle cx="178.3" cy="759.1" r="3.75" fill="#b8e4ff"/>
<circle cx="213.3" cy="772.9" r="3.75" fill="#b8e4ff"/>
<circle cx="235.5" cy="781.3" r="3.75" fill="#b8e4ff"/>
<circle cx="243" cy="790.4" r="3.75" fill="#b8e4ff"/>
<circle cx="262.8" cy="828.5" r="3.75" fill="#b8e4ff"/>
<circle cx="291.6" cy="868.9" r="3.75" fill="#b8e4ff"/>
<circle cx="309.6" cy="875.9" r="3.75" fill="#b8e4ff"/>
<circle cx="323.1" cy="877.1" r="3.75" fill="#b8e4ff"/>
<circle cx="333.6" cy="886" r="3.75" fill="#b8e4ff"/>
<circle cx="340.6" cy="894.1" r="3.75" fill="#b8e4ff"/>
<circle cx="348.6" cy="911.7" r="3.75" fill="#b8e4ff"/>
<circle cx="354.6" cy="929.2" r="3.75" fill="#b8e4ff"/>
<circle cx="361.7" cy="949.5" r="3.75" fill="#b8e4ff"/>
<circle cx="375.7" cy="958.8" r="3.75" fill="#b8e4ff"/>
<circle cx="392.2" cy="973.8" r="3.75" fill="#b8e4ff"/>
<circle cx="414.8" cy="992.1" r="3.75" fill="#b8e4ff"/>
<circle cx="427.3" cy="1008.4" r="3.75" fill="#b8e4ff"/>
<circle cx="436.1" cy="1018.4" r="3.75" fill="#b8e4ff"/>
<circle cx="459.7" cy="1011.4" r="3.75" fill="#b8e4ff"/>
<circle cx="477.2" cy="1025.4" r="3.75" fill="#b8e4ff"/>
<circle cx="493" cy="1041.2" r="3.75" fill="#b8e4ff"/>
<circle cx="509" cy="1050.2" r="3.75" fill="#b8e4ff"/>
<circle cx="507.8" cy="1071.9" r="3.75" fill="#b8e4ff"/>
<circle cx="523.5" cy="1077.7" r="3.75" fill="#b8e4ff"/>
<circle cx="532.8" cy="1089" r="3.75" fill="#b8e4ff"/>
<circle cx="546.4" cy="1098.8" r="3.75" fill="#b8e4ff"/>
<circle cx="564.6" cy="1098.8" r="3.75" fill="#b8e4ff"/>
<circle cx="583.3" cy="1103.9" r="3.75" fill="#b8e4ff"/>
<circle cx="607.1" cy="1101.8" r="3.75" fill="#b8e4ff"/>
<circle cx="627.7" cy="1098.3" r="3.75" fill="#b8e4ff"/>
<path d="M106.73,708 L106.8,708.06 L108.4,709.46 L110,710.85 L111.6,712.25 L113.2,713.66 L114.8,715.06 L116.4,716.46 L118,717.87 L119.6,719.27 L121.2,720.68 L122.8,722.08 L124.4,723.49 L126,724.9 L127.6,726.31 L129.2,727.72 L130.7,729.04 L132.2,730.37 L133.7,731.69 L135.2,733.02 L136.7,734.34 L138.2,735.67 L139.7,737 L141.2,738.32 L142.7,739.65 L144.2,740.98 L145.7,742.31 L147.2,743.64 L148.7,744.97 L150.2,746.3 L151.7,747.63 L153.2,748.96 L154.7,750.29 L156.2,751.62 L157.7,752.95 L159.2,754.28 L160.7,755.62 L162.2,756.95 L163.7,758.28 L165.2,759.61 L166.7,760.94 L168.2,762.28 L169.7,763.61 L171.2,764.94 L172.7,766.27 L174.2,767.61 L175.7,768.94 L177.2,770.27 L178.7,771.6 L180.2,772.94 L181.7,774.27 L183.2,775.6 L184.7,776.93 L186.2,778.26 L187.7,779.59 L189.2,780.93 L190.7,782.26 L192.2,783.59 L193.7,784.92 L195.2,786.25 L196.7,787.58 L198.2,788.9 L199.7,790.23 L201.2,791.56 L202.7,792.89 L204.2,794.22 L205.7,795.54 L207.2,796.87 L208.7,798.19 L210.2,799.52 L211.7,800.84 L213.2,802.17 L214.8,803.58 L216.4,804.99 L218,806.4 L219.6,807.81 L221.2,809.21 L222.8,810.62 L224.4,812.03 L226,813.43 L227.6,814.83 L229.2,816.24 L230.8,817.64 L232.4,819.04 L234,820.44 L235.6,821.84 L237.2,823.23 L238.8,824.63 L240.4,826.03 L242,827.42 L243.6,828.81 L245.2,830.2 L246.8,831.59 L248.4,832.98 L250,834.37 L251.6,835.75 L253.2,837.14 L254.8,838.52 L256.4,839.9 L258,841.28 L259.6,842.66 L261.2,844.03 L262.8,845.41 L264.4,846.78 L266,848.15 L267.6,849.52 L269.2,850.89 L270.8,852.25 L272.4,853.61 L274,854.98 L275.6,856.34 L277.2,857.69 L278.8,859.05 L280.4,860.41 L282,861.76 L283.6,863.11 L285.2,864.46 L286.8,865.8 L288.4,867.15 L290,868.49 L291.6,869.83 L293.2,871.16 L294.8,872.5 L296.4,873.83 L298,875.16 L299.6,876.49 L301.2,877.82 L302.8,879.14 L304.4,880.46 L306,881.78 L307.6,883.09 L309.2,884.41 L310.8,885.72 L312.4,887.03 L314,888.33 L315.6,889.64 L317.2,890.94 L318.8,892.24 L320.4,893.53 L322,894.82 L323.6,896.11 L325.2,897.4 L326.8,898.68 L328.4,899.96 L330,901.24 L331.6,902.52 L333.2,903.79 L334.8,905.06 L336.4,906.33 L338,907.59 L339.6,908.85 L341.2,910.11 L342.8,911.36 L344.4,912.61 L346,913.86 L347.6,915.1 L349.2,916.34 L350.8,917.58 L352.4,918.82 L354,920.05 L355.6,921.28 L357.2,922.5 L358.8,923.72 L360.4,924.94 L362,926.15 L363.6,927.36 L365.2,928.57 L366.8,929.78 L368.4,930.98 L370.1,932.25 L371.8,933.51 L373.5,934.78 L375.2,936.04 L376.9,937.29 L378.6,938.54 L380.3,939.79 L382,941.04 L383.7,942.28 L385.4,943.51 L387.1,944.74 L388.8,945.97 L390.5,947.19 L392.2,948.41 L393.9,949.63 L395.6,950.84 L397.3,952.05 L399,953.25 L400.7,954.45 L402.4,955.64 L404.1,956.83 L405.8,958.02 L407.5,959.2 L409.2,960.38 L410.9,961.55 L412.6,962.72 L414.3,963.89 L416,965.05 L417.7,966.21 L419.4,967.36 L421.1,968.51 L422.8,969.65 L424.5,970.8 L426.2,971.93 L427.9,973.06 L429.6,974.19 L431.3,975.32 L433,976.43 L434.7,977.55 L436.4,978.66 L438.1,979.77 L439.8,980.87 L441.5,981.97 L443.2,983.06 L444.9,984.15 L446.6,985.24 L448.3,986.32 L450,987.39 L451.7,988.47 L453.4,989.53 L455.1,990.6 L456.8,991.66 L458.5,992.71 L460.3,993.82 L462.1,994.93 L463.9,996.03 L465.7,997.13 L467.5,998.22 L469.3,999.31 L471.1,1000.39 L472.9,1001.47 L474.7,1002.54 L476.5,1003.61 L478.3,1004.67 L480.1,1005.73 L481.9,1006.78 L483.7,1007.83 L485.5,1008.87 L487.3,1009.91 L489.1,1010.94 L490.9,1011.97 L492.7,1012.99 L494.5,1014.01 L496.3,1015.02 L498.1,1016.03 L499.9,1017.03 L501.7,1018.03 L503.5,1019.02 L505.3,1020.01 L507.1,1020.99 L508.9,1021.96 L510.7,1022.94 L512.5,1023.9 L514.3,1024.86 L516.1,1025.82 L517.9,1026.77 L519.7,1027.71 L521.5,1028.65 L523.3,1029.59 L525.1,1030.52 L526.9,1031.44 L528.7,1032.36 L530.5,1033.27 L532.3,1034.18 L534.1,1035.09 L535.9,1035.98 L537.7,1036.88 L539.5,1037.76 L541.3,1038.65 L543.1,1039.52 L545,1040.44 L546.9,1041.36 L548.8,1042.26 L550.7,1043.17 L552.6,1044.06 L554.5,1044.95 L556.4,1045.83 L558.3,1046.71 L560.2,1047.58 L562.1,1048.45 L564,1049.31 L565.9,1050.16 L567.8,1051.01 L569.7,1051.85 L571.6,1052.69 L573.5,1053.52 L575.4,1054.34 L577.3,1055.16 L579.2,1055.97 L581.1,1056.77 L583,1057.57 L584.9,1058.36 L586.8,1059.15 L588.7,1059.93 L590.6,1060.7 L592.5,1061.47 L594.4,1062.23 L596.3,1062.98 L598.2,1063.73 L600.1,1064.48 L602,1065.21 L603.9,1065.94 L605.8,1066.67 L607.7,1067.38 L609.6,1068.09 L611.5,1068.8 L613.4,1069.5 L614.1,1069.75" fill="none" stroke="#b8e4ff" stroke-width="2.4" stroke-linejoin="round" stroke-linecap="butt"/>
<path d="M112.1,720.63 L113.2,722.34 L114.3,724.04 L115.4,725.74 L116.5,727.43 L117.6,729.11 L118.7,730.8 L119.8,732.47 L121,734.29 L122.2,736.11 L123.4,737.92 L124.6,739.72 L125.8,741.51 L127,743.3 L128.2,745.08 L129.4,746.86 L130.6,748.63 L131.8,750.39 L133,752.15 L134.2,753.9 L135.4,755.65 L136.6,757.39 L137.81,759.12 L139.01,760.84 L140.21,762.56 L141.41,764.28 L142.61,765.99 L143.81,767.69 L145.01,769.38 L146.21,771.07 L147.41,772.76 L148.61,774.43 L149.81,776.11 L151.01,777.77 L152.21,779.43 L153.41,781.08 L154.61,782.73 L155.81,784.37 L157.01,786.01 L158.21,787.64 L159.41,789.26 L160.61,790.88 L161.81,792.5 L163.01,794.1 L164.21,795.7 L165.51,797.43 L166.81,799.15 L168.11,800.87 L169.41,802.58 L170.71,804.28 L172.01,805.97 L173.31,807.66 L174.61,809.34 L175.91,811.02 L177.21,812.69 L178.51,814.35 L179.81,816.01 L181.11,817.66 L182.41,819.3 L183.71,820.94 L185.01,822.57 L186.31,824.19 L187.62,825.81 L188.92,827.42 L190.22,829.03 L191.52,830.63 L192.82,832.22 L194.12,833.81 L195.42,835.39 L196.72,836.96 L198.02,838.53 L199.32,840.09 L200.62,841.65 L201.92,843.2 L203.22,844.74 L204.52,846.28 L205.82,847.81 L207.12,849.34 L208.42,850.86 L209.82,852.49 L211.22,854.12 L212.62,855.73 L214.02,857.35 L215.42,858.95 L216.82,860.55 L218.22,862.14 L219.62,863.72 L221.02,865.3 L222.42,866.87 L223.82,868.43 L225.22,869.99 L226.62,871.54 L228.02,873.09 L229.42,874.63 L230.82,876.16 L232.22,877.68 L233.62,879.2 L235.02,880.72 L236.42,882.22 L237.83,883.72 L239.23,885.22 L240.63,886.71 L242.03,888.19 L243.43,889.66 L244.83,891.13 L246.23,892.6 L247.63,894.05 L249.03,895.5 L250.43,896.95 L251.83,898.39 L253.23,899.82 L254.73,901.35 L256.23,902.87 L257.73,904.39 L259.23,905.9 L260.73,907.4 L262.23,908.89 L263.73,910.38 L265.23,911.86 L266.73,913.34 L268.23,914.81 L269.73,916.27 L271.23,917.72 L272.73,919.17 L274.23,920.61 L275.73,922.05 L277.23,923.48 L278.73,924.9 L280.23,926.32 L281.73,927.73 L283.23,929.13 L284.73,930.53 L286.23,931.92 L287.74,933.31 L289.24,934.69 L290.74,936.06 L292.24,937.43 L293.74,938.79 L295.24,940.14 L296.74,941.49 L298.24,942.84 L299.74,944.17 L301.24,945.5 L302.74,946.83 L304.34,948.24 L305.94,949.64 L307.54,951.03 L309.14,952.42 L310.74,953.8 L312.34,955.17 L313.94,956.54 L315.54,957.9 L317.14,959.25 L318.74,960.6 L320.34,961.94 L321.94,963.27 L323.54,964.6 L325.14,965.92 L326.74,967.24 L328.34,968.55 L329.94,969.85 L331.54,971.15 L333.14,972.44 L334.74,973.73 L336.34,975 L337.95,976.28 L339.55,977.54 L341.15,978.8 L342.75,980.06 L344.35,981.31 L345.95,982.55 L347.55,983.79 L349.15,985.02 L350.75,986.24 L352.35,987.46 L353.95,988.67 L355.55,989.88 L357.15,991.08 L358.85,992.35 L360.55,993.62 L362.25,994.88 L363.95,996.13 L365.65,997.37 L367.35,998.61 L369.05,999.84 L370.75,1001.07 L372.45,1002.29 L374.15,1003.5 L375.85,1004.71 L377.55,1005.91 L379.25,1007.11 L380.95,1008.3 L382.65,1009.48 L384.35,1010.66 L386.05,1011.83 L387.76,1013 L389.46,1014.16 L391.16,1015.31 L392.86,1016.46 L394.56,1017.6 L396.26,1018.74 L397.96,1019.87 L399.66,1020.99 L401.36,1022.11 L403.06,1023.23 L404.76,1024.33 L406.46,1025.44 L408.16,1026.53 L409.86,1027.62 L411.56,1028.71 L413.26,1029.79 L414.96,1030.87 L416.66,1031.94 L418.36,1033 L420.06,1034.06 L421.76,1035.11 L423.56,1036.22 L425.36,1037.32 L427.16,1038.42 L428.96,1039.51 L430.76,1040.6 L432.56,1041.68 L434.36,1042.75 L436.16,1043.82 L437.97,1044.88 L439.77,1045.94 L441.57,1046.99 L443.37,1048.04 L445.17,1049.08 L446.97,1050.11 L448.77,1051.14 L450.57,1052.17 L452.37,1053.18 L454.17,1054.2 L455.97,1055.2 L457.77,1056.21 L459.57,1057.2 L461.37,1058.19 L463.17,1059.18 L464.97,1060.16 L466.77,1061.14 L468.57,1062.11 L470.37,1063.07 L472.17,1064.03 L473.97,1064.98 L475.77,1065.93 L477.57,1066.88 L479.37,1067.82 L481.17,1068.75 L482.97,1069.68 L484.77,1070.61 L486.57,1071.53 L488.38,1072.44 L490.18,1073.35 L491.98,1074.25 L493.78,1075.15 L495.58,1076.05 L497.38,1076.94 L499.18,1077.82 L500.98,1078.71 L502.78,1079.58 L504.58,1080.45 L506.48,1081.37 L508.38,1082.28 L510.28,1083.18 L512.18,1084.08 L514.08,1084.97 L515.98,1085.86 L517.88,1086.75 L519.78,1087.63 L521.68,1088.5 L523.58,1089.37 L525.48,1090.23 L527.38,1091.09 L529.28,1091.95 L531.18,1092.8 L533.08,1093.64 L534.98,1094.48 L536.89,1095.32 L538.79,1096.15 L540.69,1096.98 L542.59,1097.8 L544.49,1098.61 L546.39,1099.43 L548.29,1100.23 L550.19,1101.04 L552.09,1101.83 L553.99,1102.63 L555.89,1103.42 L557.79,1104.2 L559.69,1104.98 L561.59,1105.76 L563.49,1106.53 L565.39,1107.3 L567.29,1108.06 L569.19,1108.82 L571.09,1109.57 L572.99,1110.32 L574.89,1111.07 L576.79,1111.81 L578.69,1112.55 L580.59,1113.28 L582.49,1114.01 L584.39,1114.74 L586.29,1115.46 L588.2,1116.17 L590.1,1116.89 L592,1117.6 L593.9,1118.3 L595.8,1119 L597.7,1119.7 L599.6,1120.39 L601.5,1121.08 L603.4,1121.77 L605.3,1122.45 L607.2,1123.12 L609.1,1123.8 L611,1124.47 L611.8,1124.75" fill="none" stroke="#50bcff" stroke-width="2.4" stroke-linejoin="round" stroke-linecap="butt"/>
<path d="M81.6,745.21 L82.7,747.02 L83.8,748.83 L84.9,750.62 L86,752.41 L87.1,754.19 L88.2,755.96 L89.3,757.72 L90.4,759.47 L91.5,761.21 L92.6,762.95 L93.7,764.68 L94.8,766.4 L95.9,768.11 L97,769.81 L98.1,771.5 L99.2,773.19 L100.3,774.87 L101.5,776.69 L102.7,778.5 L103.9,780.3 L105.1,782.09 L106.3,783.87 L107.5,785.65 L108.7,787.41 L109.9,789.17 L111.1,790.91 L112.3,792.65 L113.5,794.37 L114.7,796.09 L115.9,797.8 L117.1,799.5 L118.3,801.19 L119.5,802.87 L120.7,804.54 L121.9,806.2 L123.1,807.86 L124.3,809.5 L125.5,811.14 L126.7,812.77 L127.9,814.39 L129.1,816 L130.3,817.6 L131.6,819.33 L132.9,821.05 L134.2,822.75 L135.5,824.45 L136.8,826.14 L138.1,827.82 L139.4,829.48 L140.7,831.14 L142,832.79 L143.3,834.43 L144.6,836.06 L145.9,837.68 L147.2,839.29 L148.5,840.89 L149.8,842.49 L151.1,844.07 L152.4,845.65 L153.7,847.21 L155,848.77 L156.3,850.31 L157.6,851.85 L158.9,853.38 L160.2,854.9 L161.6,856.53 L163,858.15 L164.4,859.76 L165.8,861.36 L167.2,862.95 L168.6,864.53 L170,866.09 L171.4,867.65 L172.8,869.2 L174.2,870.74 L175.6,872.27 L177,873.79 L178.4,875.31 L179.8,876.81 L181.2,878.3 L182.6,879.78 L184,881.26 L185.4,882.72 L186.8,884.18 L188.2,885.63 L189.6,887.07 L191,888.5 L192.5,890.02 L194,891.53 L195.5,893.03 L197,894.52 L198.5,896.01 L200,897.48 L201.5,898.94 L203,900.39 L204.5,901.84 L206,903.27 L207.5,904.69 L209,906.11 L210.5,907.51 L212,908.91 L213.5,910.3 L215,911.67 L216.5,913.04 L218,914.4 L219.5,915.75 L221,917.09 L222.5,918.42 L224,919.75 L225.6,921.15 L227.2,922.54 L228.8,923.93 L230.4,925.3 L232,926.66 L233.6,928.01 L235.2,929.36 L236.8,930.69 L238.4,932.02 L240,933.33 L241.6,934.64 L243.2,935.94 L244.8,937.22 L246.4,938.5 L248,939.77 L249.6,941.03 L251.2,942.29 L252.8,943.53 L254.4,944.76 L256,945.99 L257.6,947.21 L259.2,948.41 L260.9,949.69 L262.6,950.95 L264.3,952.21 L266,953.45 L267.7,954.69 L269.4,955.92 L271.1,957.14 L272.8,958.35 L274.5,959.55 L276.2,960.74 L277.9,961.92 L279.6,963.09 L281.3,964.26 L283,965.41 L284.7,966.56 L286.4,967.7 L288.1,968.83 L289.8,969.95 L291.5,971.06 L293.2,972.16 L294.9,973.26 L296.6,974.35 L298.3,975.43 L300,976.5 L301.7,977.56 L303.4,978.62 L305.2,979.73 L307,980.83 L308.8,981.92 L310.6,983 L312.4,984.08 L314.2,985.14 L316,986.2 L317.8,987.25 L319.6,988.29 L321.4,989.32 L323.2,990.35 L325,991.36 L326.8,992.37 L328.6,993.37 L330.4,994.36 L332.2,995.35 L334,996.33 L335.8,997.29 L337.6,998.25 L339.4,999.21 L341.2,1000.15 L343,1001.09 L344.8,1002.02 L346.6,1002.95 L348.4,1003.86 L350.2,1004.77 L352,1005.67 L353.8,1006.57 L355.6,1007.45 L357.4,1008.33 L359.2,1009.21 L361.1,1010.12 L363,1011.03 L364.9,1011.93 L366.8,1012.82 L368.7,1013.7 L370.6,1014.58 L372.5,1015.45 L374.4,1016.31 L376.3,1017.16 L378.2,1018.01 L380.1,1018.85 L382,1019.69 L383.9,1020.51 L385.8,1021.33 L387.7,1022.14 L389.6,1022.95 L391.5,1023.75 L393.4,1024.54 L395.3,1025.33 L397.2,1026.11 L399.1,1026.88 L401,1027.64 L402.9,1028.4 L404.8,1029.16 L406.7,1029.9 L408.6,1030.65 L410.5,1031.38 L412.4,1032.11 L414.3,1032.83 L416.2,1033.55 L418.1,1034.26 L420,1034.96 L421.9,1035.66 L423.8,1036.35 L425.7,1037.04 L427.6,1037.72 L429.5,1038.39 L431.4,1039.06 L433.3,1039.73 L435.2,1040.39 L437.1,1041.04 L439,1041.69 L440.9,1042.33 L442.8,1042.97 L444.7,1043.6 L446.6,1044.22 L448.6,1044.88 L450.6,1045.52 L452.6,1046.17 L454.6,1046.8 L456.6,1047.43 L458.6,1048.06 L460.6,1048.68 L462.6,1049.29 L464.6,1049.9 L466.6,1050.5 L468.6,1051.1 L470.6,1051.69 L472.6,1052.28 L474.6,1052.86 L476.6,1053.44 L478.6,1054.01 L480.6,1054.58 L482.6,1055.14 L484.6,1055.7 L486.6,1056.25 L488.6,1056.8 L490.6,1057.34 L492.6,1057.88 L494.6,1058.41 L496.6,1058.94 L498.6,1059.46 L500.6,1059.98 L502.6,1060.49 L504.6,1061 L506.6,1061.51 L508.6,1062.01 L510.6,1062.51 L512.6,1063 L514.6,1063.49 L516.6,1063.97 L518.6,1064.45 L520.6,1064.92 L522.6,1065.39 L524.6,1065.86 L526.6,1066.32 L528.6,1066.78 L530.6,1067.23 L532.6,1067.68 L534.6,1068.13 L536.6,1068.57 L538.6,1069.01 L540.6,1069.45 L542.6,1069.88 L544.6,1070.3 L546.6,1070.73 L548.6,1071.15 L550.6,1071.56 L552.6,1071.97 L554.6,1072.38 L556.6,1072.79 L558.6,1073.19 L560.6,1073.59 L562.6,1073.98 L564.6,1074.37 L566.6,1074.76 L568.6,1075.14 L570.6,1075.52 L572.6,1075.9 L574.6,1076.27 L576.6,1076.65 L578.6,1077.01 L580.6,1077.38 L582.6,1077.74 L584.6,1078.09 L586.6,1078.45 L588.6,1078.8 L590.6,1079.15 L592.6,1079.49 L594.6,1079.84 L596.6,1080.18 L598.6,1080.51 L600.6,1080.84 L602.6,1081.17 L604.6,1081.5 L606.6,1081.83 L608.6,1082.15 L610.6,1082.47 L612.6,1082.78 L614.6,1083.1 L616.6,1083.41 L618.6,1083.71 L620.6,1084.02 L622.6,1084.32 L624.6,1084.62 L626.6,1084.92 L628.6,1085.21 L630.6,1085.5 L632.6,1085.79 L634.6,1086.08 L636.6,1086.36 L638.6,1086.64 L640.6,1086.92 L642.6,1087.2 L644.6,1087.47 L645.7,1087.62" fill="none" stroke="#5f6eff" stroke-width="2.4" stroke-linejoin="round" stroke-linecap="butt"/>
<path d="M100.28,708 L100.3,708.14 L100.7,710.42 L101.1,712.69 L101.51,714.94 L101.91,717.18 L102.31,719.41 L102.71,721.62 L103.11,723.82 L103.51,726.01 L103.91,728.18 L104.31,730.34 L104.71,732.48 L105.11,734.61 L105.51,736.73 L105.91,738.84 L106.31,740.93 L106.71,743.02 L107.11,745.08 L107.51,747.14 L107.91,749.18 L108.31,751.21 L108.71,753.23 L109.11,755.23 L109.51,757.23 L109.91,759.21 L110.31,761.18 L110.81,763.62 L111.31,766.04 L111.81,768.45 L112.31,770.84 L112.81,773.21 L113.31,775.56 L113.81,777.89 L114.31,780.21 L114.81,782.51 L115.31,784.79 L115.81,787.05 L116.31,789.29 L116.81,791.52 L117.31,793.73 L117.81,795.93 L118.31,798.1 L118.81,800.26 L119.31,802.41 L119.81,804.54 L120.31,806.65 L120.81,808.74 L121.31,810.82 L121.81,812.88 L122.31,814.93 L122.81,816.96 L123.31,818.98 L123.81,820.98 L124.31,822.96 L124.81,824.93 L125.31,826.89 L125.81,828.83 L126.41,831.14 L127.01,833.42 L127.61,835.69 L128.21,837.93 L128.81,840.16 L129.41,842.36 L130.01,844.55 L130.61,846.71 L131.21,848.85 L131.81,850.98 L132.41,853.08 L133.01,855.17 L133.61,857.23 L134.21,859.28 L134.81,861.31 L135.41,863.32 L136.01,865.31 L136.61,867.28 L137.21,869.23 L137.81,871.17 L138.41,873.09 L139.11,875.3 L139.81,877.5 L140.51,879.67 L141.21,881.81 L141.91,883.93 L142.61,886.03 L143.31,888.11 L144.01,890.17 L144.71,892.2 L145.41,894.21 L146.11,896.2 L146.81,898.17 L147.51,900.12 L148.21,902.04 L148.91,903.95 L149.61,905.83 L150.41,907.96 L151.21,910.07 L152.01,912.14 L152.81,914.2 L153.61,916.22 L154.41,918.23 L155.21,920.21 L156.01,922.16 L156.82,924.09 L157.62,926 L158.42,927.88 L159.22,929.74 L160.02,931.58 L160.92,933.62 L161.82,935.63 L162.72,937.61 L163.62,939.57 L164.52,941.5 L165.42,943.4 L166.32,945.28 L167.22,947.13 L168.12,948.96 L169.02,950.76 L170.02,952.73 L171.02,954.67 L172.02,956.58 L173.02,958.47 L174.02,960.32 L175.02,962.15 L176.02,963.94 L177.02,965.71 L178.02,967.46 L179.12,969.34 L180.22,971.2 L181.32,973.02 L182.42,974.82 L183.52,976.58 L184.62,978.31 L185.72,980.02 L186.82,981.69 L188.02,983.49 L189.22,985.25 L190.42,986.98 L191.62,988.68 L192.82,990.35 L194.02,991.99 L195.22,993.6 L196.52,995.31 L197.82,996.98 L199.12,998.62 L200.42,1000.23 L201.72,1001.81 L203.02,1003.35 L204.42,1004.98 L205.82,1006.58 L207.22,1008.14 L208.62,1009.67 L210.02,1011.17 L211.43,1012.63 L212.83,1014.06 L214.33,1015.56 L215.83,1017.03 L217.33,1018.46 L218.83,1019.86 L220.33,1021.23 L221.83,1022.57 L223.43,1023.96 L225.03,1025.32 L226.63,1026.65 L228.23,1027.94 L229.83,1029.2 L231.43,1030.43 L233.03,1031.64 L234.73,1032.88 L236.43,1034.09 L238.13,1035.27 L239.83,1036.42 L241.53,1037.54 L243.23,1038.64 L244.93,1039.7 L246.73,1040.8 L248.53,1041.86 L250.33,1042.9 L252.13,1043.91 L253.93,1044.89 L255.73,1045.84 L257.53,1046.77 L259.33,1047.68 L261.13,1048.55 L263.03,1049.46 L264.93,1050.33 L266.84,1051.18 L268.74,1052.01 L270.64,1052.81 L272.54,1053.59 L274.44,1054.34 L276.34,1055.08 L278.24,1055.79 L280.14,1056.48 L282.04,1057.15 L283.94,1057.81 L285.84,1058.44 L287.84,1059.09 L289.84,1059.72 L291.84,1060.33 L293.84,1060.92 L295.84,1061.49 L297.84,1062.05 L299.84,1062.58 L301.84,1063.11 L303.84,1063.61 L305.84,1064.1 L307.84,1064.58 L309.84,1065.04 L311.84,1065.49 L313.84,1065.92 L315.84,1066.34 L317.84,1066.75 L319.84,1067.15 L321.85,1067.53 L323.85,1067.9 L325.85,1068.27 L327.85,1068.62 L329.85,1068.95 L331.85,1069.28 L333.85,1069.6 L335.85,1069.91 L337.85,1070.21 L339.85,1070.5 L341.85,1070.78 L343.85,1071.06 L345.85,1071.32 L347.85,1071.58 L349.85,1071.83 L351.85,1072.07 L353.85,1072.31 L355.85,1072.53 L357.85,1072.75 L359.85,1072.97 L361.85,1073.18 L363.85,1073.38 L365.85,1073.57 L367.85,1073.76 L369.85,1073.94 L371.85,1074.12 L373.85,1074.29 L375.86,1074.46 L377.86,1074.62 L379.86,1074.78 L381.86,1074.93 L383.86,1075.08 L385.86,1075.22 L387.86,1075.36 L389.86,1075.5 L391.86,1075.63 L393.86,1075.75 L395.86,1075.88 L397.86,1076 L399.86,1076.11 L401.86,1076.22 L403.86,1076.33 L405.86,1076.44 L407.86,1076.54 L409.86,1076.64 L411.86,1076.74 L413.86,1076.83 L415.86,1076.92 L417.86,1077.01 L419.86,1077.09 L421.86,1077.17 L423.86,1077.25 L425.86,1077.33 L427.86,1077.41 L429.86,1077.48 L431.87,1077.55 L433.87,1077.62 L435.87,1077.68 L437.87,1077.75 L439.87,1077.81 L441.87,1077.87 L443.87,1077.93 L445.87,1077.99 L447.87,1078.04 L449.87,1078.09 L451.87,1078.15 L453.87,1078.2 L455.87,1078.25 L457.87,1078.29 L459.87,1078.34 L461.87,1078.38 L463.87,1078.43 L465.87,1078.47 L467.87,1078.51 L469.87,1078.55 L471.87,1078.59 L473.87,1078.62 L475.87,1078.66 L477.87,1078.69 L479.87,1078.73 L481.87,1078.76 L483.87,1078.79 L485.88,1078.82 L487.88,1078.85 L489.88,1078.88 L491.88,1078.91 L493.88,1078.94 L495.88,1078.96 L497.88,1078.99 L499.88,1079.01 L501.88,1079.04 L503.88,1079.06 L505.88,1079.08 L507.88,1079.1 L509.88,1079.13 L511.88,1079.15 L513.88,1079.17 L515.88,1079.19 L517.88,1079.2 L519.88,1079.22 L521.88,1079.24 L523.88,1079.26 L525.88,1079.27 L527.88,1079.29 L529.88,1079.31 L531.88,1079.32 L533.88,1079.34 L535.88,1079.35 L537.88,1079.36 L539.88,1079.38 L541.89,1079.39 L543.89,1079.4 L545.89,1079.42 L547.89,1079.43 L549.89,1079.44 L551.89,1079.45 L553.89,1079.46 L555.89,1079.47 L557.89,1079.48 L559.89,1079.49 L561.89,1079.5 L563.89,1079.51 L565.89,1079.52 L567.89,1079.53 L569.89,1079.54 L571.89,1079.54 L573.89,1079.55 L575.89,1079.56 L577.89,1079.57 L579.89,1079.57 L581.89,1079.58 L583.89,1079.59 L585.89,1079.59 L587.89,1079.6 L589.89,1079.61 L591.89,1079.61 L593.89,1079.62 L595.9,1079.62 L597.9,1079.63 L599.9,1079.64 L601.9,1079.64 L603.9,1079.65 L605.9,1079.65 L607.9,1079.65 L609.9,1079.66 L611.9,1079.66 L613.9,1079.67 L615.9,1079.67 L617.9,1079.68 L619.9,1079.68 L621.9,1079.68 L622.3,1079.68" fill="none" stroke="#000e7c" stroke-width="2.4" stroke-linejoin="round" stroke-linecap="butt"/>
<rect x="74" y="708" width="597" height="477.5" fill="none" stroke="#000" stroke-width="2.2"/>
<path d="M223.25,708 v9 M223.25,1185.5 v-9 M372.5,708 v9 M372.5,1185.5 v-9 M521.75,708 v9 M521.75,1185.5 v-9 M148.62,708 v4.5 M148.62,1185.5 v-4.5 M297.88,708 v4.5 M297.88,1185.5 v-4.5 M447.12,708 v4.5 M447.12,1185.5 v-4.5 M596.38,708 v4.5 M596.38,1185.5 v-4.5 M74,827.38 h9 M671,827.38 h-9 M74,946.75 h9 M671,946.75 h-9 M74,1066.12 h9 M671,1066.12 h-9 M74,767.69 h4.5 M671,767.69 h-4.5 M74,887.06 h4.5 M671,887.06 h-4.5 M74,1006.44 h4.5 M671,1006.44 h-4.5 M74,1125.81 h4.5 M671,1125.81 h-4.5 " stroke="#000" stroke-width="2" fill="none"/>
<text x="74" y="692" class="tick" text-anchor="middle">0.0</text>
<text x="223.25" y="692" class="tick" text-anchor="middle">0.2</text>
<text x="372.5" y="692" class="tick" text-anchor="middle">0.4</text>
<text x="521.75" y="692" class="tick" text-anchor="middle">0.6</text>
<text x="671" y="692" class="tick" text-anchor="middle">0.8</text>
<text x="63.6" y="713.5" class="tick" text-anchor="end">0.0</text>
<text x="63.6" y="834.88" class="tick" text-anchor="end">-0.2</text>
<text x="63.6" y="954.25" class="tick" text-anchor="end">-0.4</text>
<text x="63.6" y="1073.62" class="tick" text-anchor="end">-0.6</text>
<text x="63.6" y="1193" class="tick" text-anchor="end">-0.8</text>
<text x="370.6" y="672.8" class="title" text-anchor="middle">X</text>
<text transform="translate(18.1,946.5) rotate(-90)" class="title" text-anchor="middle">Y</text>
<rect x="441.3" y="729.4" width="195.3" height="129" fill="#000"/>
<rect x="436.7" y="724.8" width="195.3" height="129" fill="#fff" stroke="#858585" stroke-width="1.2"/>
<text x="444.6" y="747.7" class="lh">Point</text><text x="492" y="747.7" class="lh">Fitted curve</text>
<circle cx="462.7" cy="764" r="3.8" fill="#000e7c"/>
<line x1="501.9" y1="764" x2="547.6" y2="764" stroke="#000e7c" stroke-width="2.6" stroke-linecap="round"/>
<text x="579.4" y="770.5" class="le">0.13H</text>
<circle cx="462.7" cy="789.2" r="3.8" fill="#50bcff"/>
<line x1="501.9" y1="789.2" x2="547.6" y2="789.2" stroke="#50bcff" stroke-width="2.6" stroke-linecap="round"/>
<text x="579.4" y="795.7" class="le">0.38H</text>
<circle cx="462.7" cy="814.4" r="3.8" fill="#5f6eff"/>
<line x1="501.9" y1="814.4" x2="547.6" y2="814.4" stroke="#5f6eff" stroke-width="2.6" stroke-linecap="round"/>
<text x="579.4" y="820.9" class="le">0.63H</text>
<circle cx="462.7" cy="839.6" r="3.8" fill="#b8e4ff"/>
<line x1="501.9" y1="839.6" x2="547.6" y2="839.6" stroke="#b8e4ff" stroke-width="2.6" stroke-linecap="round"/>
<text x="579.4" y="846.1" class="le">0.88H</text>
<text x="320" y="744.1" class="gl">Grade line</text>
<line x1="362.5" y1="751.4" x2="344.12" y2="779.9" stroke="#000" stroke-width="0.8"/>
<path d="M338.7,788.3 L342.43,776.43 L347.98,780 Z" fill="#000"/>
<text x="452.9" y="881" class="eq"><tspan class="b">y</tspan>=-1.42+1.44e<tspan class="sup" dy="-8">-x/1.26</tspan></text>
<text y="900.5" class="r2"><tspan x="479.5">(</tspan><tspan x="493.6">R</tspan><tspan x="504.6" dy="-6" class="sup2">2</tspan><tspan x="509.6" dy="6" class="r2eq">=</tspan><tspan x="518.4" class="r2d">0.92</tspan><tspan x="547.2">)</tspan></text>
<line x1="466.9" y1="893.2" x2="419.41" y2="953.16" stroke="#b8e4ff" stroke-width="0.8"/>
<path d="M413.2,961 L418.06,949.54 L423.24,953.64 Z" fill="#b8e4ff"/>
<text x="500.8" y="942.5" class="eq"><tspan class="b">y</tspan>=-0.67+0.65e<tspan class="sup" dy="-8">-x/0.29</tspan></text>
<text y="961.6" class="r2"><tspan x="527.1">(</tspan><tspan x="541.2">R</tspan><tspan x="552.2" dy="-6" class="sup2">2</tspan><tspan x="557.2" dy="6" class="r2eq">=</tspan><tspan x="566" class="r2d">0.99</tspan><tspan x="594.8">)</tspan></text>
<line x1="530" y1="975" x2="477.74" y2="1042.21" stroke="#5f6eff" stroke-width="0.8"/>
<path d="M471.6,1050.1 L476.36,1038.6 L481.57,1042.65 Z" fill="#5f6eff"/>
<text x="367.7" y="1127.8" class="eq"><tspan class="b">y</tspan>=-0.63+0.72e<tspan class="sup" dy="-8">-x/0.12</tspan></text>
<text y="1145.4" class="r2"><tspan x="393.9">(</tspan><tspan x="408">R</tspan><tspan x="419" dy="-6" class="sup2">2</tspan><tspan x="424" dy="6" class="r2eq">=</tspan><tspan x="432.8" class="r2d">0.95</tspan><tspan x="461.6">)</tspan></text>
<line x1="413.2" y1="1110.8" x2="437.27" y2="1086.42" stroke="#000e7c" stroke-width="0.8"/>
<path d="M444.3,1079.3 L438.22,1090.16 L433.52,1085.52 Z" fill="#000e7c"/>
<text x="502.2" y="1149.4" class="eq"><tspan class="b">y</tspan>=-0.99+1.03e<tspan class="sup" dy="-8">-x/0.56</tspan></text>
<text y="1166.6" class="r2"><tspan x="529.9">(</tspan><tspan x="544">R</tspan><tspan x="555" dy="-6" class="sup2">2</tspan><tspan x="560" dy="6" class="r2eq">=</tspan><tspan x="568.8" class="r2d">0.98</tspan><tspan x="597.6">)</tspan></text>
<line x1="531.4" y1="1125.3" x2="550.93" y2="1111.01" stroke="#50bcff" stroke-width="0.8"/>
<path d="M559,1105.1 L551.27,1114.85 L547.37,1109.52 Z" fill="#50bcff"/>
<text x="341.5" y="1260.7" class="cap" text-anchor="middle">(b)</text>
</g>
</svg></body></html>
